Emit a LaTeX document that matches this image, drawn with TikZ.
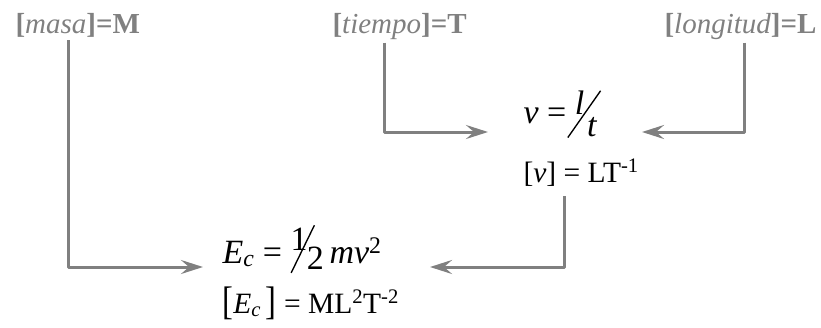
\documentclass[tikz,border=0pt]{standalone}
\usepackage{fontspec}
\setmainfont{Liberation Serif}
\usetikzlibrary{arrows.meta}
\definecolor{gris}{RGB}{128,128,128}
% barra inclinada de las fracciones: angulo, largo, descenso
\newcommand{\barra}[3]{\raisebox{-#3}{\rotatebox{#1}{\rule{#2}{0.04em}}}}
\begin{document}
\begin{tikzpicture}[x=1pt, y=-1pt, line join=round, >={Stealth[length=22pt, width=14pt, inset=8pt]}]
	\tikzset{
		magnitud/.style={anchor=base west, text=gris, font=\fontsize{29}{32}\selectfont\bfseries},
		formula/.style={anchor=base west, font=\fontsize{34}{38}\selectfont},
		dimension/.style={anchor=base west, font=\fontsize{29.5}{32}\selectfont},
		flecha/.style={->, draw=gris, line width=3pt}
	}
	\useasboundingbox (0,0) rectangle (821,327);
	% magnitudes
	\node[magnitud] (masa) at (12,33) {[\textit{\mdseries masa}]=M};
	\node[magnitud] (tiempo) at (329,33) {[\textit{\mdseries tiempo}]=T};
	\node[magnitud] (longitud) at (661,33) {[\textit{\mdseries longitud}]=L};
	% ecuaciones
	\node[formula] (vel) at (520,123) {\textit{v} = \raisebox{0.24em}{\textit{l}}\kern-0.5em\barra{55}{1.68em}{0.44em}\kern-0.41em\raisebox{-0.4em}{\textit{t}}};
	\node[dimension] (veldim) at (520,182) {[\textit{v}] = LT\textsuperscript{-1}};
	\node[formula] (ener) at (219,263) {\textit{E}\textsubscript{\textit{c}} = \raisebox{0.38em}{1}\kern-0.5em\barra{64}{1.56em}{0.3em}\kern-0.24em\raisebox{-0.2em}{2}\,\textit{mv}\textsuperscript{2}};
	\node[dimension] (enerdim) at (219,313) {\raisebox{-0.06em}{\scalebox{1.1}[1.35]{[}}\textit{E}\textsubscript{\textit{c}}\,\raisebox{-0.06em}{\scalebox{1.1}[1.35]{]}} = ML\textsuperscript{2}T\textsuperscript{-2}};
	% puntas
	\coordinate (p1) at (203,267);
	\coordinate (p2) at (430,267);
	\coordinate (p3) at (488,132);
	\coordinate (p4) at (642,132);
	% flechas
	\draw[flecha] (masa.south -| 68,0) |- (p1);
	\draw[flecha] (tiempo.south -| 384,0) |- (p3);
	\draw[flecha] (longitud.south -| 744,0) |- (p4);
	\draw[flecha, shorten <=7pt] (veldim.south -| 564,0) |- (p2);
\end{tikzpicture}
\end{document}
